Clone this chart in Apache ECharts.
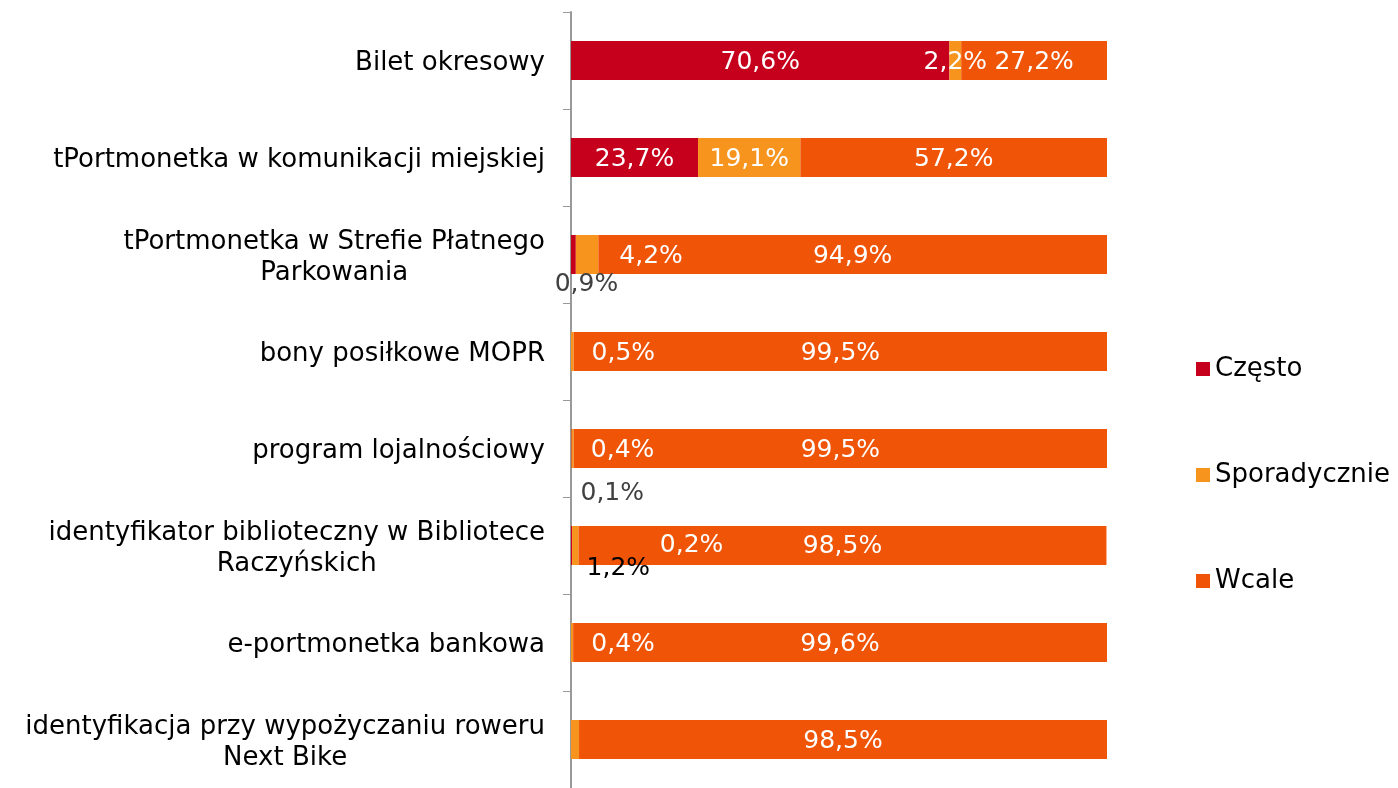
<!DOCTYPE html>
<html>
<head>
<meta charset="utf-8">
<script src="https://cdn.jsdelivr.net/npm/echarts@6/dist/echarts.min.js"></script>
<style>html,body{margin:0;padding:0;background:#fff;}#c{width:1398px;height:788px;}</style>
</head>
<body>
<div id="c"></div>
<script>
const categories = [
  'Bilet okresowy',
  'tPortmonetka w komunikacji miejskiej',
  'tPortmonetka w Strefie Płatnego\nParkowania',
  'bony posiłkowe MOPR',
  'program lojalnościowy',
  'identyfikator biblioteczny w Bibliotece\nRaczyńskich',
  'e-portmonetka bankowa',
  'identyfikacja przy wypożyczaniu roweru\nNext Bike'
];
const seriesNames = ['Często', 'Sporadycznie', 'Wcale'];
const czesto       = [70.6, 23.7, 0.9, 0,    0.1,  0.2,  0,    0];
const sporadycznie = [2.2,  19.1, 4.2, 0.5,  0.4,  1.2,  0.4,  1.5];
const wcale        = [27.2, 57.2, 94.9, 99.5, 99.5, 98.5, 99.6, 98.5];

const colors = ['#C6001C', '#F7941E', '#F05406'];
const FONT = 'DejaVu Sans';
const FS = 25;
const FS_AXIS = 26;

// label tweaks (styling only) per series index -> category index
const labelShift = {
  0: {0: [0, 2], 1: [0, 2], 2: [13, 30], 4: [41, 45], 5: [120, 0]},
  1: {0: [0, 2], 1: [0, 2], 2: [64, 2], 3: [51, 2], 4: [50, 2], 5: [43, 23], 6: [51, 2]},
  2: {0: [0, 2], 1: [0, 2], 2: [0, 2], 3: [0, 2], 4: [0, 2], 5: [0, 1], 6: [0, 2], 7: [0, 2]}
};
const labelColor = {
  0: {2: '#404040', 4: '#404040'},
  1: {5: '#000000'},
  2: {}
};
const labelHidden = {1: {7: true}};

const fmt = v => v.toFixed(1).replace('.', ',') + '%';

function buildData(arr, si) {
  return arr.map((v, i) => {
    const item = {value: v};
    if (v === 0 || (labelHidden[si] && labelHidden[si][i])) {
      item.label = {show: false};
    } else if (labelColor[si][i]) {
      item.label = {color: labelColor[si][i]};
    }
    return item;
  });
}

const allSeries = [czesto, sporadycznie, wcale].map((arr, si) => ({
  name: seriesNames[si],
  type: 'bar',
  stack: 'total',
  barWidth: 39,
  itemStyle: {color: colors[si]},
  label: {
    show: true,
    position: 'inside',
    color: '#ffffff',
    fontFamily: FONT,
    fontSize: FS,
    formatter: p => fmt(p.value)
  },
  labelLayout: function (params) {
    const s = labelShift[params.seriesIndex][params.dataIndex];
    return s ? {dx: s[0], dy: s[1]} : {};
  },
  data: buildData(arr, si)
}));

const chart = echarts.init(document.getElementById('c'));
chart.setOption({
  animation: false,
  backgroundColor: '#ffffff',
  textStyle: {fontFamily: FONT},
  grid: {left: 571, right: 291, top: 12, bottom: 0, containLabel: false},
  legend: {
    orient: 'vertical',
    left: 1196,
    top: 356,
    padding: 0,
    itemWidth: 14,
    itemHeight: 14,
    itemGap: 80,
    icon: 'rect',
    textStyle: {fontFamily: FONT, fontSize: FS_AXIS, color: '#000'},
    data: seriesNames
  },
  xAxis: {
    type: 'value',
    min: 0,
    max: 100,
    show: false
  },
  yAxis: {
    type: 'category',
    inverse: true,
    data: categories,
    axisLine: {show: true, lineStyle: {color: '#999999', width: 2}},
    axisTick: {show: true, length: 8, lineStyle: {color: '#999999', width: 1}},
    axisLabel: {
      margin: 26,
      color: '#000',
      fontFamily: FONT,
      fontSize: FS_AXIS,
      lineHeight: 31,
      padding: [6, 0, 0, 0],
      formatter: v => v.split('\n').map(l => '{c|' + l + '}').join('\n'),
      rich: {c: {align: 'center', fontFamily: FONT, fontSize: FS_AXIS, color: '#000', lineHeight: 31}}
    }
  },
  series: allSeries
});
</script>
</body>
</html>
